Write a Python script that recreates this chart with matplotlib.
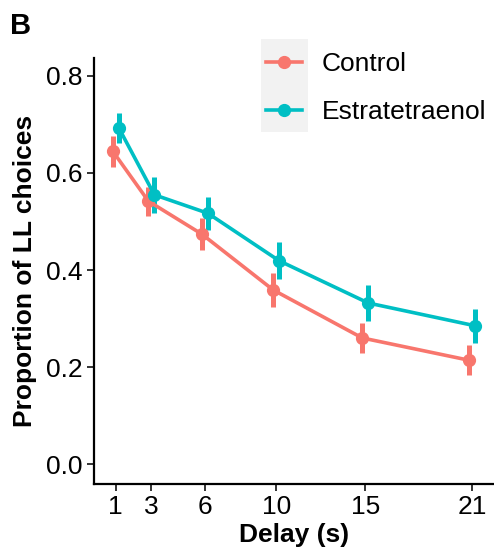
import matplotlib
matplotlib.use("Agg")
import matplotlib.pyplot as plt
from matplotlib.patches import Rectangle
import numpy as np

plt.rcParams['font.family'] = ['Liberation Sans', 'DejaVu Sans']

delays = [1, 3, 6, 10, 15, 21]
control = [0.645, 0.542, 0.474, 0.359, 0.260, 0.214]
control_err = [0.032, 0.030, 0.033, 0.035, 0.030, 0.031]
estr = [0.693, 0.555, 0.517, 0.419, 0.332, 0.285]
estr_err = [0.031, 0.037, 0.034, 0.038, 0.037, 0.035]
groups = ["Control", "Estratetraenol"]
colors = ["#F8766D", "#00BFC4"]
xticks = [1, 3, 6, 10, 15, 21]
yticks = [0.0, 0.2, 0.4, 0.6, 0.8]

FS = 19
W, H = 494, 556
fig = plt.figure(figsize=(W / 100, H / 100), dpi=100)
ax = fig.add_axes([94 / W, 1 - 484 / H, (494 - 94) / W, (484 - 58) / H])

dodge = 0.17
handles = []
for vals, errs, col, name, off in [(control, control_err, colors[0], groups[0], -dodge),
                                    (estr, estr_err, colors[1], groups[1], dodge)]:
    x = np.array(delays, dtype=float) + off
    ax.errorbar(x, vals, yerr=errs, fmt='none', ecolor=col, elinewidth=3.6, capsize=0, zorder=2)
    h, = ax.plot(x, vals, '-o', color=col, lw=2.6, ms=8.5, label=name, zorder=3)
    handles.append(h)

ax.set_xlim(-0.22, 22.22)
ax.set_ylim(-0.041, 0.837)
ax.set_xticks(xticks)
ax.set_xticklabels([str(t) for t in xticks])
ax.set_yticks(yticks)
ax.set_yticklabels([f"{t:.1f}" for t in yticks])
for s in ['top', 'right']:
    ax.spines[s].set_visible(False)
for s in ['left', 'bottom']:
    ax.spines[s].set_linewidth(1.6)
    ax.spines[s].set_color('black')
ax.tick_params(axis='both', length=5, width=1.4, color='#333333', labelsize=FS,
               labelcolor='black', pad=3)
ax.set_xlabel("Delay (s)", fontsize=FS, fontweight='bold', labelpad=3)
ax.set_ylabel("Proportion of LL choices", fontsize=FS, fontweight='bold', labelpad=7)

fig.text(10 / W, 1 - 34 / H, "B", fontsize=21, fontweight='bold', ha='left', va='baseline')

# legend key background
fig.patches.append(Rectangle((261 / W, 1 - 132 / H), 47 / W, 93 / H,
                             transform=fig.transFigure, facecolor='#F2F2F2',
                             edgecolor='none', zorder=0))
leg = fig.legend(handles=handles, loc='upper left', bbox_to_anchor=(266 / W, 1 - 52 / H),
                 frameon=False, fontsize=FS, handlelength=1.36, handletextpad=0.76,
                 labelspacing=0.9, borderaxespad=0, borderpad=0.0)

fig.savefig("out.png", dpi=100)
